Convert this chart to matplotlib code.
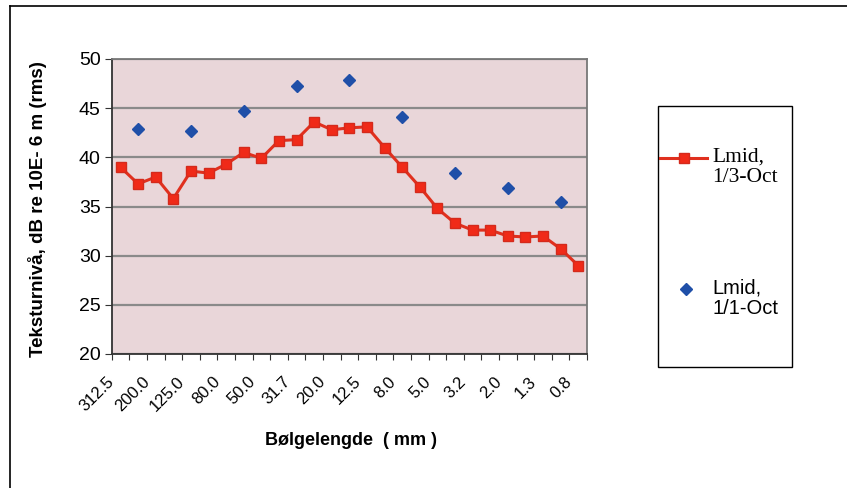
import numpy as np
import matplotlib
matplotlib.use("Agg")
import matplotlib.pyplot as plt
import matplotlib.transforms as mtransforms
from matplotlib.lines import Line2D
from matplotlib.patches import Rectangle

# 1/3-octave wavelength bands (mm)
bands = ["312.5", "250.0", "200.0", "160.0", "125.0", "100.0", "80.0", "63.0",
         "50.0", "40.0", "31.7", "25.0", "20.0", "16.0", "12.5", "10.0", "8.0",
         "6.3", "5.0", "4.0", "3.2", "2.5", "2.0", "1.6", "1.3", "1.0", "0.8"]

lmid_third = [39.0, 37.3, 38.0, 35.8, 38.6, 38.4, 39.3, 40.5, 39.9, 41.7, 41.8,
              43.6, 42.8, 43.0, 43.1, 41.0, 39.0, 37.0, 34.8, 33.3, 32.6, 32.6,
              32.0, 31.9, 32.0, 30.7, 29.0]

# 1/1-octave values sit on every third band
octave_idx = [1, 4, 7, 10, 13, 16, 19, 22, 25]
lmid_octave = [42.9, 42.7, 44.7, 47.3, 47.9, 44.1, 38.4, 36.9, 35.5]

legend_labels = ["Lmid,\n1/3-Oct", "Lmid,\n1/1-Oct"]

W, H = 847, 488
fig = plt.figure(figsize=(W / 100, H / 100), dpi=100)
ax = fig.add_axes([111.7 / W, 1 - 354 / H, (587 - 111.7) / W, (354 - 59) / H])

red_line = dict(color="#e0301e", lw=2.2)
red_mark = dict(marker="s", ms=7, mfc="#f02a18", mec="#d42a1c")
blue_style = dict(ls="none", marker="D", ms=6.5, color="#1f4fa8")

x = np.arange(len(bands))
ax.set_facecolor("#e9d6d9")
ax.plot(x, lmid_third, zorder=3, **red_line, **red_mark)
ax.plot(np.array(octave_idx), lmid_octave, zorder=3, **blue_style)

ax.set_ylim(20, 50)
ax.set_yticks(np.arange(20, 51, 5))
ax.set_xlim(-0.5, len(bands) - 0.5)
ax.set_xticks(np.arange(-0.5, len(bands), 1.0))
ax.set_xticklabels([])
ax.set_xticks(x[::2], minor=True)
ax.set_xticklabels(bands[::2], minor=True, rotation=45, ha="right",
                   rotation_mode="anchor", fontsize=12, family="Liberation Sans")
ax.tick_params(axis="x", which="minor", length=0, pad=8)
ax.tick_params(axis="x", which="major", length=4, direction="out", color="#333333")
ax.tick_params(axis="y", length=5, direction="out", labelsize=14, pad=3,
               color="#333333")
for lab in ax.get_yticklabels():
    lab.set_family("Liberation Sans")
# nudge the slanted labels so they end just left of and below each band
shift = mtransforms.ScaledTranslation(-0.14, -0.09, fig.dpi_scale_trans)
for lab in ax.get_xticklabels(minor=True):
    lab.set_transform(lab.get_transform() + shift)

ax.grid(axis="y", color="#8a8a8a", lw=1.6)
ax.set_axisbelow(True)
for side in ["top", "right"]:
    ax.spines[side].set_color("#777777")
for side in ["left", "bottom"]:
    ax.spines[side].set_color("#333333")
for s in ax.spines.values():
    s.set_linewidth(1.3)

ax.set_xlabel("Bølgelengde  ( mm )", fontsize=13, fontweight="bold",
              family="Liberation Sans")
ax.xaxis.set_label_coords(0.503, -0.265)
ax.set_ylabel("Teksturnivå, dB re 10E- 6 m (rms)", fontsize=13.5,
              fontweight="bold", family="Liberation Sans")
ax.yaxis.set_label_coords(-0.136, 0.49)

# outer frame (left and top edges visible)
fig.add_artist(Line2D([10 / W, 10 / W], [0, 1 - 6 / H], transform=fig.transFigure,
                      color="black", lw=1.2))
fig.add_artist(Line2D([10 / W, 1], [1 - 6 / H, 1 - 6 / H], transform=fig.transFigure,
                      color="black", lw=1.2))

# legend box, drawn by hand so that the markers sit on the first text line
fig.add_artist(Rectangle((658 / W, 1 - 367 / H), (792 - 658) / W, (367 - 106) / H,
                         transform=fig.transFigure, fill=False, ec="black", lw=1.0))
fig.add_artist(Line2D([660 / W, 707 / W], [1 - 158 / H] * 2,
                      transform=fig.transFigure, **red_line))
fig.add_artist(Line2D([683.5 / W], [1 - 158 / H], transform=fig.transFigure,
                      ls="none", **red_mark))
fig.add_artist(Line2D([686 / W], [1 - 289 / H], transform=fig.transFigure,
                      **blue_style))
fig.text(712 / W, 1 - 148 / H, legend_labels[0], va="top", ha="left",
         family="Liberation Serif", fontsize=15.5, linespacing=1.1)
fig.text(712 / W, 1 - 279 / H, legend_labels[1], va="top", ha="left",
         family="Liberation Sans", fontsize=14.5, linespacing=1.1)

fig.savefig("out.png", dpi=100)
